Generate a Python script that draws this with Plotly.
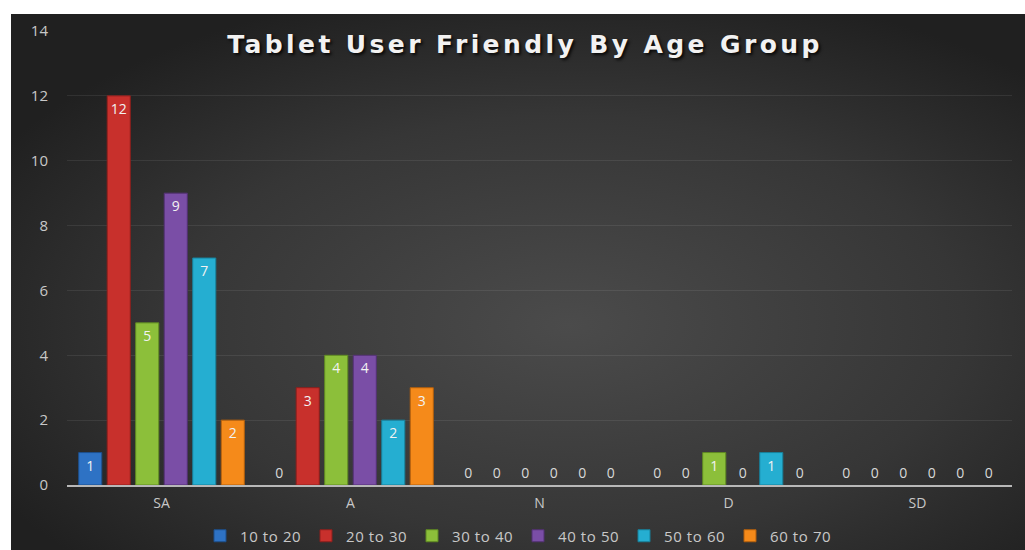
import urllib.parse
import plotly.graph_objects as go

# Survey responses per agreement level, split by age group
categories = ["SA", "A", "N", "D", "SD"]
age_groups = ["10 to 20", "20 to 30", "30 to 40", "40 to 50", "50 to 60", "60 to 70"]
counts_10_20 = [1, 0, 0, 0, 0]
counts_20_30 = [12, 3, 0, 0, 0]
counts_30_40 = [5, 4, 0, 1, 0]
counts_40_50 = [9, 4, 0, 0, 0]
counts_50_60 = [7, 2, 0, 1, 0]
counts_60_70 = [2, 3, 0, 0, 0]
y_ticks = [0, 2, 4, 6, 8, 10, 12, 14]

series = [counts_10_20, counts_20_30, counts_30_40, counts_40_50, counts_50_60, counts_60_70]
colors = ["#2e72c4", "#c8302c", "#8cbf3a", "#7a4ea6", "#25aed1", "#f58a1a"]
edges = ["#1d4f8c", "#8e1f1c", "#5f8a22", "#533174", "#17809b", "#b35f0c"]

FONT = "'Open Sans', Lato, sans-serif"
LABEL_GREY = "#c8c8c8"

fig = go.Figure()
for name, vals, col, edge in zip(age_groups, series, colors, edges):
    fig.add_trace(go.Bar(
        name=name,
        x=categories,
        y=vals,
        text=[str(v) for v in vals],
        textposition=["inside" if v > 0 else "outside" for v in vals],
        insidetextanchor="end",
        textangle=0,
        cliponaxis=False,
        textfont=dict(family=FONT, size=14, color="#f2f2f2"),
        outsidetextfont=dict(family=FONT, size=14, color="#d9d9d9"),
        insidetextfont=dict(family=FONT, size=14, color="#f2f2f2"),
        marker=dict(color=col,
                    line=dict(color=edge, width=[1 if v > 0 else 0 for v in vals])),
    ))

# Dark radial backdrop behind the chart
svg = (
    "<svg xmlns='http://www.w3.org/2000/svg' width='1014' height='536' "
    "preserveAspectRatio='none' viewBox='0 0 1014 536'>"
    "<defs><radialGradient id='g' cx='55%' cy='58%' r='65%'>"
    "<stop offset='0%' stop-color='#4b4b4b'/>"
    "<stop offset='60%' stop-color='#363636'/>"
    "<stop offset='100%' stop-color='#202020'/>"
    "</radialGradient></defs>"
    "<rect width='1014' height='536' fill='url(#g)'/></svg>"
)
bg_uri = "data:image/svg+xml;charset=utf-8," + urllib.parse.quote(svg)

W_PLOT = 1012 - 67
H_PLOT = 485 - 31

fig.add_layout_image(dict(
    source=bg_uri,
    xref="paper", yref="paper",
    x=(11 - 67) / W_PLOT, y=(485 - 14) / H_PLOT,
    sizex=(1025 - 11) / W_PLOT, sizey=(550 - 14) / H_PLOT,
    xanchor="left", yanchor="top",
    sizing="stretch", layer="below",
))

fig.update_layout(
    width=1025, height=550,
    margin=dict(l=67, r=13, t=31, b=65, autoexpand=False),
    paper_bgcolor="white",
    plot_bgcolor="rgba(0,0,0,0)",
    barmode="group",
    bargap=0.095,
    bargroupgap=0.19,
    title=dict(
        text="<b>Tablet User Friendly By Age Group</b>",
        xref="container", x=525 / 1025, xanchor="center",
        y=(550 - 44) / 550, yanchor="middle",
        font=dict(family="'DejaVu Sans', Verdana, sans-serif", size=25, color="#f2f2f2",
                  shadow="2px 2px 3px rgba(0,0,0,0.8)"),
    ),
    font=dict(family=FONT, color=LABEL_GREY, size=13),
    showlegend=True,
    legend=dict(
        orientation="h",
        xref="container", yref="container",
        x=200 / 1025, xanchor="left",
        y=(550 - 536) / 550, yanchor="middle",
        font=dict(family=FONT, size=15, color=LABEL_GREY),
        entrywidth=61, entrywidthmode="pixels",
        bgcolor="rgba(0,0,0,0)",
        traceorder="normal",
    ),
    xaxis=dict(
        showgrid=False,
        showline=True, linecolor="#b8b8b8", linewidth=2,
        ticks="", ticklabelstandoff=4,
        tickfont=dict(family=FONT, size=14, color=LABEL_GREY),
        zeroline=False,
    ),
    yaxis=dict(
        range=[0, 14],
        tickvals=y_ticks,
        showgrid=True, gridcolor="rgba(255,255,255,0.08)", gridwidth=1,
        zeroline=False, showline=False,
        ticks="", ticklabelstandoff=18,
        tickfont=dict(family=FONT, size=15, color=LABEL_GREY),
    ),
)

# Wider letter spacing for the title and legend labels once the chart is drawn
post_js = """
var gd = document.getElementById('{plot_id}');
function spaceText() {
  var t = gd.querySelector('.gtitle');
  if (t) { t.style.letterSpacing = '3.4px'; }
  gd.querySelectorAll('.legendtext').forEach(function (el) {
    el.style.letterSpacing = '0.6px';
  });
  gd.querySelectorAll('.legend .scrollbox').forEach(function (el) {
    el.removeAttribute('clip-path');
  });
}
spaceText();
gd.on('plotly_afterplot', spaceText);
"""

fig.write_html("out.html", post_script=post_js)
